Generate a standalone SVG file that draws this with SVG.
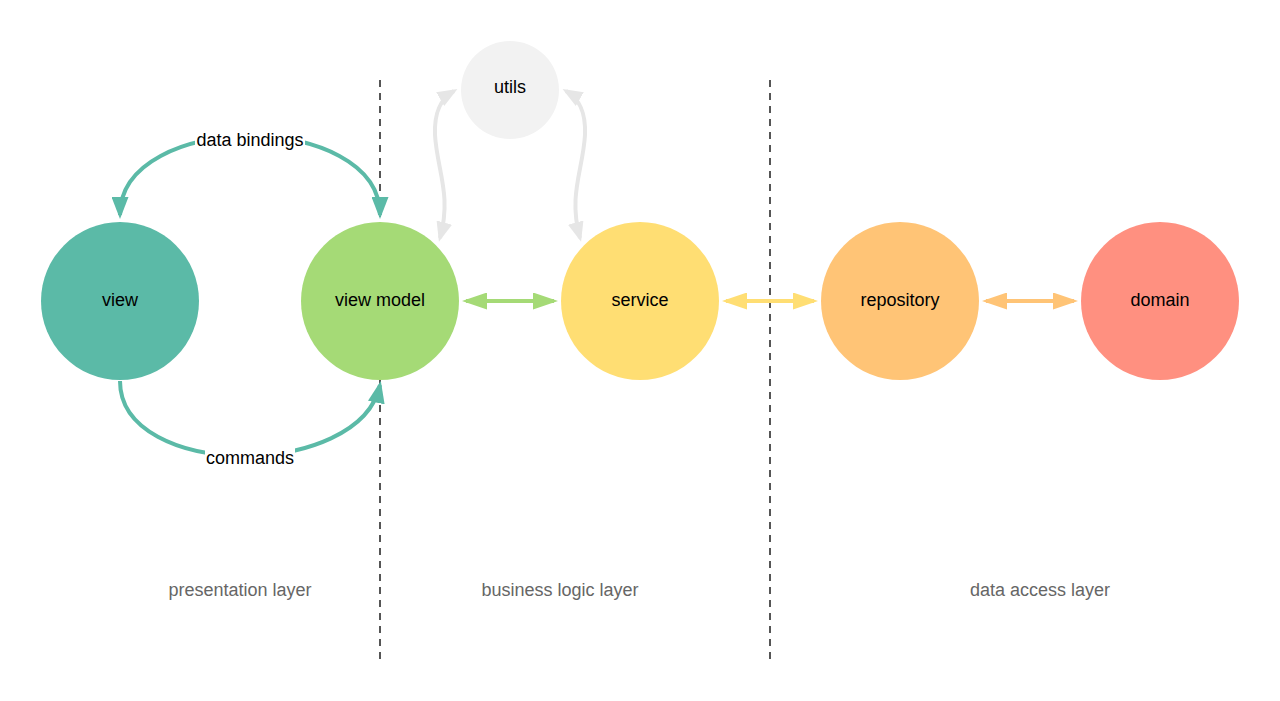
<svg xmlns="http://www.w3.org/2000/svg" width="1280" height="701" viewBox="0 0 1280 701">
<style>
.lbl{font-family:"Liberation Sans",Arial,sans-serif;font-size:18px;fill:#000;text-anchor:middle;dominant-baseline:central}
.layer{font-family:"Liberation Sans",Arial,sans-serif;font-size:18px;fill:#666;text-anchor:middle;dominant-baseline:central}
.sep{stroke:#555;stroke-width:2;stroke-dasharray:7 6;fill:none}
.c{fill:none;stroke-width:4}
</style>
<defs>
<marker id="mTeal" markerUnits="userSpaceOnUse" markerWidth="22" markerHeight="17" refX="18" refY="8.5" orient="auto-start-reverse" viewBox="0 0 22 17"><path d="M0,0 L22,8.5 L0,17 z" fill="#5BBAA7"/></marker>
<marker id="mGray" markerUnits="userSpaceOnUse" markerWidth="20" markerHeight="16" refX="16" refY="8" orient="auto-start-reverse" viewBox="0 0 20 16"><path d="M0,0 L20,8 L0,16 z" fill="#E6E6E6"/></marker>
<marker id="mGreen" markerUnits="userSpaceOnUse" markerWidth="25" markerHeight="17" refX="21" refY="8.5" orient="auto-start-reverse" viewBox="0 0 25 17"><path d="M0,0 L25,8.5 L0,17 z" fill="#A5DA76"/></marker>
<marker id="mYellow" markerUnits="userSpaceOnUse" markerWidth="25" markerHeight="17" refX="21" refY="8.5" orient="auto-start-reverse" viewBox="0 0 25 17"><path d="M0,0 L25,8.5 L0,17 z" fill="#FFDE73"/></marker>
<marker id="mOrange" markerUnits="userSpaceOnUse" markerWidth="25" markerHeight="17" refX="21" refY="8.5" orient="auto-start-reverse" viewBox="0 0 25 17"><path d="M0,0 L25,8.5 L0,17 z" fill="#FFC476"/></marker>
</defs>
<rect width="1280" height="701" fill="#fff"/>
<g id="separators">
<line class="sep" x1="380" y1="80" x2="380" y2="662"/>
<line class="sep" x1="770" y1="80" x2="770" y2="662"/>
</g>
<g id="connectors">
<path class="c" stroke="#5BBAA7" d="M120,215 C120,110 380,110 380,215" marker-start="url(#mTeal)" marker-end="url(#mTeal)"/>
<rect x="195" y="128" width="110" height="24" fill="#fff"/>
<text class="lbl" x="250" y="140">data bindings</text>
<path class="c" stroke="#5BBAA7" d="M120,381 C120,480 360,480 380,385" marker-end="url(#mTeal)"/>
<rect x="205" y="446" width="90" height="24" fill="#fff"/>
<text class="lbl" x="250" y="458">commands</text>
<path class="c" stroke="#E6E6E6" d="M454,91 C442,98 434,110 435,135 C437,170 452,195 440,238" marker-start="url(#mGray)" marker-end="url(#mGray)"/>
<path class="c" stroke="#E6E6E6" d="M566,91 C578,98 586,110 585,135 C583,170 568,195 580,238" marker-start="url(#mGray)" marker-end="url(#mGray)"/>
<path class="c" stroke="#A5DA76" stroke-width="5" d="M466,301 L554,301" marker-start="url(#mGreen)" marker-end="url(#mGreen)"/>
<path class="c" stroke="#FFDE73" stroke-width="5" d="M726,301 L814,301" marker-start="url(#mYellow)" marker-end="url(#mYellow)"/>
<path class="c" stroke="#FFC476" stroke-width="5" d="M986,301 L1074,301" marker-start="url(#mOrange)" marker-end="url(#mOrange)"/>
</g>
<g id="utils"><circle cx="510" cy="90" r="49" fill="#F2F2F2"/><text class="lbl" x="510" y="87">utils</text></g>
<g id="view"><circle cx="120" cy="301" r="79" fill="#5BBAA7"/><text class="lbl" x="120" y="300">view</text></g>
<g id="view-model"><circle cx="380" cy="301" r="79" fill="#A5DA76"/><text class="lbl" x="380" y="300">view model</text></g>
<g id="service"><circle cx="640" cy="301" r="79" fill="#FFDE73"/><text class="lbl" x="640" y="300">service</text></g>
<g id="repository"><circle cx="900" cy="301" r="79" fill="#FFC476"/><text class="lbl" x="900" y="300">repository</text></g>
<g id="domain"><circle cx="1160" cy="301" r="79" fill="#FF9080"/><text class="lbl" x="1160" y="300">domain</text></g>
<g id="layers">
<text class="layer" x="240" y="590">presentation layer</text>
<text class="layer" x="560" y="590">business logic layer</text>
<text class="layer" x="1040" y="590">data access layer</text>
</g>
</svg>
